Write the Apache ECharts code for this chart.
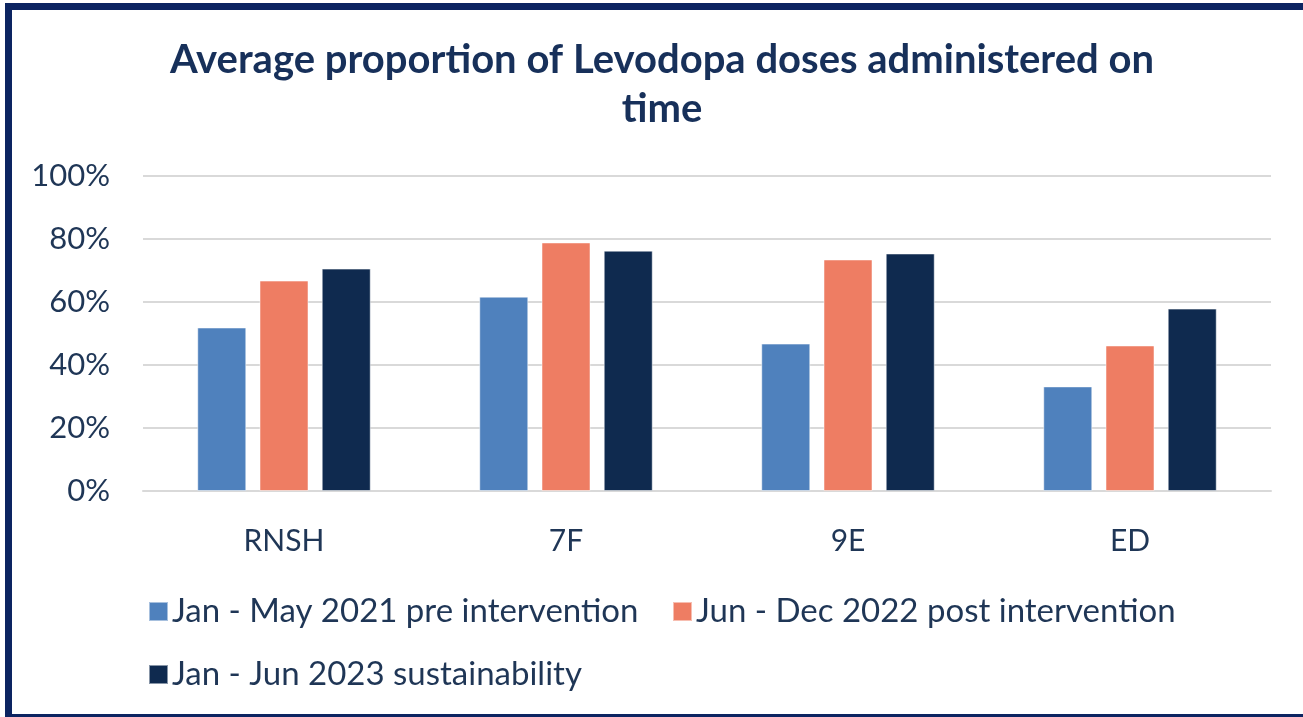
<!DOCTYPE html>
<html><head><meta charset="utf-8">
<script src="https://cdn.jsdelivr.net/npm/echarts@6/dist/echarts.min.js"></script>
<style>
html,body{margin:0;padding:0;background:#fff;}
#c{position:absolute;left:0;top:0;width:1303px;height:717px;}
#frame{position:absolute;left:5px;top:3px;width:1291px;height:704px;border-left:7px solid #0c2461;border-top:7px solid #0c2461;border-right:3px solid #0c2461;border-bottom:3px solid #0c2461;pointer-events:none;}
</style></head>
<body>
<div id="c"></div>
<div id="frame"></div>
<script>
var categories = ['RNSH', '7F', '9E', 'ED'];
var seriesNames = ['Jan - May 2021 pre intervention', 'Jun - Dec 2022 post intervention', 'Jan - Jun 2023 sustainability'];
var pre = [51.9, 61.7, 46.8, 33.2];
var post = [66.8, 78.9, 73.5, 46.2];
var sustain = [70.6, 76.3, 75.4, 57.9];
var colors = ['#4f81bd', '#ee7d63', '#0f2a4f'];
var textColor = '#1f3656';
var font = 'Lato';

var chart = echarts.init(document.getElementById('c'), null, {renderer: 'canvas'});
var data = [pre, post, sustain];
var legendPos = [[143, 590], [667, 590], [143, 653]];
chart.setOption({
  animation: false,
  title: {
    text: 'Average proportion of Levodopa doses administered on\ntime',
    left: 657, textAlign: 'center', top: 31,
    textStyle: {fontFamily: font, fontWeight: 'bold', fontSize: 40, color: '#17305a', lineHeight: 49}
  },
  legend: seriesNames.map(function(n, i){
    return {
      left: legendPos[i][0], top: legendPos[i][1],
      itemWidth: 19, itemHeight: 19, itemGap: 22,
      icon: 'rect',
      textStyle: {fontFamily: font, fontSize: 33, color: textColor, padding: [0,0,0,-1]},
      data: [n]
    };
  }),
  grid: {left: 143, right: 32, top: 176, bottom: 226},
  xAxis: {
    type: 'category', data: categories,
    axisLine: {lineStyle: {color: '#d9d9d9', width: 2}},
    axisTick: {show: false},
    axisLabel: {fontFamily: font, fontSize: 30, color: textColor, margin: 35}
  },
  yAxis: {
    type: 'value', min: 0, max: 100, interval: 20,
    axisLabel: {formatter: '{value}%', fontFamily: font, fontSize: 31, color: textColor, margin: 33},
    splitLine: {lineStyle: {color: '#d9d9d9', width: 2}},
    axisLine: {show: false}, axisTick: {show: false}
  },
  series: data.map(function(d, i){
    return {name: seriesNames[i], type: 'bar', data: d, barWidth: 49, barGap: '27%',
      itemStyle: {color: colors[i], borderColor: 'rgba(255,255,255,0.5)', borderWidth: 1}};
  })
});
</script>
</body></html>
